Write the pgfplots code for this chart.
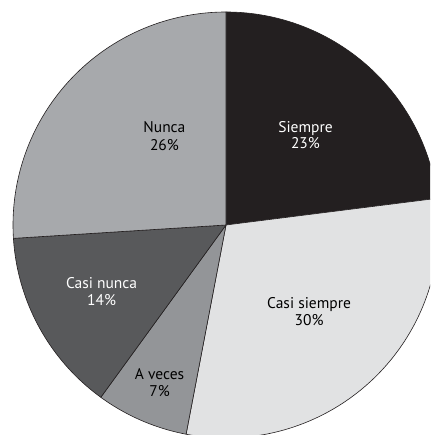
\documentclass[border=0pt]{standalone}
\usepackage{pgfplots}
\pgfplotsset{compat=1.18}
\usepackage{fontspec}
\setmainfont{PT Sans}
\definecolor{cSiempre}{HTML}{231F20}
\definecolor{cCasiSiempre}{HTML}{E1E2E3}
\definecolor{cAVeces}{HTML}{939598}
\definecolor{cCasiNunca}{HTML}{58595B}
\definecolor{cNunca}{HTML}{A7A9AC}
\definecolor{edge}{HTML}{231F20}
% data (percent)
\def\vSiempre{23}
\def\vCasiSiempre{30}
\def\vAVeces{7}
\def\vCasiNunca{14}
\def\vNunca{26}
\pgfmathsetmacro{\aA}{90}
\pgfmathsetmacro{\aB}{\aA-3.6*\vSiempre}
\pgfmathsetmacro{\aC}{\aB-3.6*\vCasiSiempre}
\pgfmathsetmacro{\aD}{\aC-3.6*\vAVeces}
\pgfmathsetmacro{\aE}{\aD-3.6*\vCasiNunca}
\pgfmathsetmacro{\aF}{\aE-3.6*\vNunca}
\begin{document}
\begin{tikzpicture}
\begin{axis}[
  scale only axis, width=430pt, height=435pt,
  xmin=-1.0610, xmax=0.9577, ymin=-0.9859, ymax=1.0563,
  hide axis, samples=90, variable=\t,
  every axis plot/.append style={draw=edge, line width=0.6pt, line join=round},
]
\addplot[fill=cSiempre, domain=\aB:\aA] ({cos(t)},{sin(t)}) -- (axis cs:0,0) -- cycle;
\addplot[fill=cCasiSiempre, domain=\aC:\aB] ({cos(t)},{sin(t)}) -- (axis cs:0,0) -- cycle;
\addplot[fill=cAVeces, domain=\aD:\aC] ({cos(t)},{sin(t)}) -- (axis cs:0,0) -- cycle;
\addplot[fill=cCasiNunca, domain=\aE:\aD] ({cos(t)},{sin(t)}) -- (axis cs:0,0) -- cycle;
\addplot[fill=cNunca, domain=\aF:\aE] ({cos(t)},{sin(t)}) -- (axis cs:0,0) -- cycle;
\begin{scope}[every node/.style={anchor=base, font=\fontsize{15.5}{17}\selectfont, inner sep=0pt}]
\node[text=white] at (axis cs:0.373,0.435) {Siempre};
\node[text=white] at (axis cs:0.373,0.357) {\vSiempre\%};
\node[text=black] at (axis cs:0.390,-0.394) {Casi siempre};
\node[text=black] at (axis cs:0.390,-0.472) {\vCasiSiempre\%};
\node[text=black] at (axis cs:-0.312,-0.723) {A veces};
\node[text=black] at (axis cs:-0.312,-0.803) {\vAVeces\%};
\node[text=white] at (axis cs:-0.584,-0.300) {Casi nunca};
\node[text=white] at (axis cs:-0.584,-0.379) {\vCasiNunca\%};
\node[text=black] at (axis cs:-0.289,0.432) {Nunca};
\node[text=black] at (axis cs:-0.289,0.352) {\vNunca\%};
\end{scope}
\end{axis}
\pgfresetboundingbox
\path (current axis.south west) rectangle (current axis.north east);
\end{tikzpicture}
\end{document}
